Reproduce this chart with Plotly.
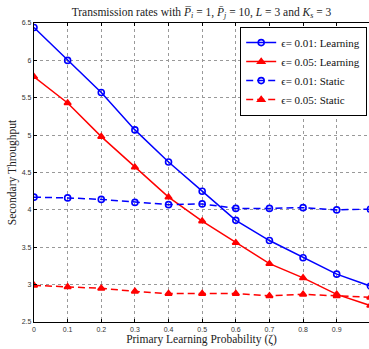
import plotly.graph_objects as go

zeta = [0, 0.1, 0.2, 0.3, 0.4, 0.5, 0.6, 0.7, 0.8, 0.9, 1.0]
learn_001 = [6.44, 6.00, 5.57, 5.07, 4.64, 4.25, 3.86, 3.59, 3.36, 3.14, 2.98]
learn_005 = [5.78, 5.43, 4.98, 4.57, 4.17, 3.85, 3.56, 3.28, 3.09, 2.87, 2.72]
static_001 = [4.17, 4.16, 4.14, 4.10, 4.07, 4.08, 4.02, 4.02, 4.03, 4.00, 4.01]
static_005 = [2.99, 2.97, 2.95, 2.91, 2.88, 2.88, 2.88, 2.85, 2.87, 2.85, 2.83]

names = ["ϵ= 0.01: Learning", "ϵ= 0.05: Learning", "ϵ= 0.01: Static", "ϵ= 0.05: Static"]
xticks = [0, 0.1, 0.2, 0.3, 0.4, 0.5, 0.6, 0.7, 0.8, 0.9]
xticklabels = ["0", "0.1", "0.2", "0.3", "0.4", "0.5", "0.6", "0.7", "0.8", "0.9"]
yticks = [2.5, 3, 3.5, 4, 4.5, 5, 5.5, 6, 6.5]
yticklabels = ["2.5", "3", "3.5", "4", "4.5", "5", "5.5", "6", "6.5"]

BLUE = "#0000ff"
RED = "#ff0000"
SERIF = "Liberation Serif, DejaVu Serif, serif"

series = [
    (learn_001, BLUE, "solid", "circle-open"),
    (learn_005, RED, "solid", "triangle-up"),
    (static_001, BLUE, "7px,4px", "circle-open"),
    (static_005, RED, "7px,4px", "triangle-up"),
]

fig = go.Figure()
for (vals, col, dash, sym), nm in zip(series, names):
    fig.add_trace(go.Scatter(
        x=zeta, y=vals, mode="lines+markers", name=nm,
        line=dict(color=col, width=1.5, dash=dash),
        marker=dict(symbol=sym, size=6, color=col,
                    line=dict(color=col, width=1.6)),
    ))

fig.update_layout(
    width=369, height=349,
    margin=dict(l=34, r=0, t=23, b=27),
    paper_bgcolor="white", plot_bgcolor="white",
    title=dict(
        text="Transmission rates with <i>P̅</i><sub><i>i</i></sub> = 1, <i>P̄</i><sub><i>j</i></sub> = 10, <i>L</i> = 3 and <i>K</i><sub><i>s</i></sub> = 3",
        x=0.5, xref="paper", xanchor="center", y=1 - 12 / 349, yanchor="middle",
        font=dict(family=SERIF, size=11.5, color="#222"),
    ),
    showlegend=True,
    legend=dict(
        x=0.994, y=0.987, xanchor="right", yanchor="top",
        bgcolor="white", bordercolor="black", borderwidth=1.2,
        font=dict(family=SERIF, size=11, color="#111"),
        itemwidth=30, tracegroupgap=0,
    ),
)

fig.update_xaxes(
    range=[0, 0.996], tickvals=xticks, ticktext=xticklabels,
    ticks="inside", ticklen=3, tickcolor="black", showline=True, linecolor="black", linewidth=1.3,
    mirror="ticks", showgrid=True, gridcolor="#999999", griddash="dot", gridwidth=1,
    zeroline=False, tickfont=dict(family="Liberation Sans, Arial", size=7, color="#333"),
    title=dict(text="Primary Learning Probability (ζ)", font=dict(family=SERIF, size=11.5, color="#222"), standoff=3),
)
fig.update_yaxes(
    range=[2.5, 6.5], tickvals=yticks, ticktext=yticklabels,
    ticks="inside", ticklen=3, tickcolor="black", showline=True, linecolor="black", linewidth=1.3,
    mirror=False, showgrid=True, gridcolor="#999999", griddash="dot", gridwidth=1,
    zeroline=False, tickfont=dict(family="Liberation Sans, Arial", size=7, color="#333"),
    title=dict(text="Secondary Throughput", font=dict(family=SERIF, size=11.5, color="#222"), standoff=2),
)

fig.write_html("out.html")
